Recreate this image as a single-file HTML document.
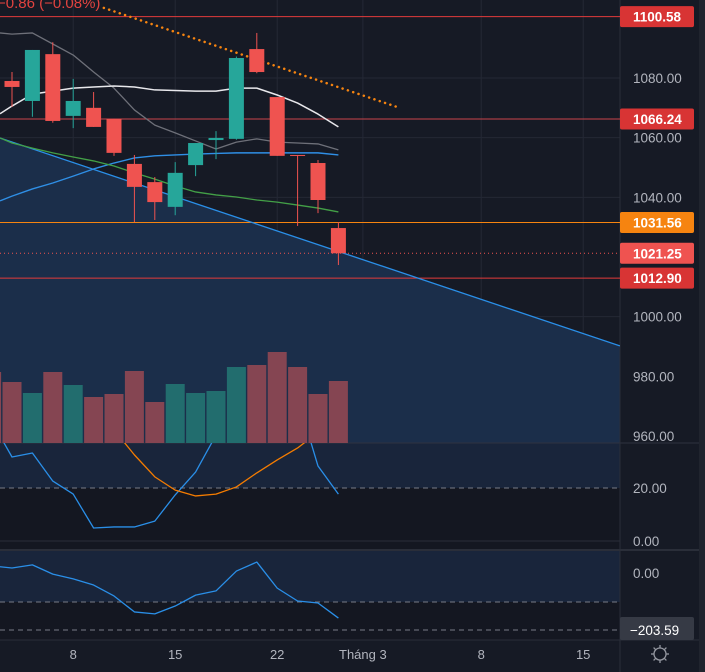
<!DOCTYPE html>
<html><head><meta charset="utf-8">
<style>
html,body{margin:0;padding:0;background:#161a25;}
svg{display:block;font-family:"Liberation Sans",sans-serif;}
</style></head>
<body>
<svg id="c" width="705" height="672" viewBox="0 0 705 672" xmlns="http://www.w3.org/2000/svg">
<rect x="0" y="0" width="705" height="672" fill="#161a25"/>
<rect x="699" y="0" width="6" height="672" fill="#20242e"/>
<g id="grid"></g>
<g id="fills"></g>
<g id="lines"></g>
<g id="marks"></g>
<g id="axis"></g>
</svg>
<script>
// ---- data ----
const opens  = [1079,1072.3,1088,1067.3,1070,1066.3,1051.2,1045.1,1036.8,1050.8,1059.2,1059.6,1089.7,1073.6,1054.2,1051.5,1029.7];
const highs  = [1082,1089.4,1092,1079.7,1075.3,1066.3,1054.2,1046.8,1051.8,1058.2,1062.2,1087.2,1095.1,1073.6,1054.2,1052.5,1031.7];
const lows   = [1070.3,1067,1065,1063.2,1063.6,1053.9,1031.7,1032.4,1034,1047.1,1052.8,1059.3,1081.6,1053.9,1030.4,1034.7,1017.3];
const closes = [1077,1089.4,1065.6,1072.3,1063.6,1054.9,1043.5,1038.4,1048.2,1058.2,1059.9,1086.7,1082,1053.9,1053.9,1039.1,1021.25];
const volIdx = [-1,0,1,2,3,4,5,6,7,8,9,10,11,12,13,14,15,16];
const volumes = [71,61,50,71,58,46,49,72,41,59,50,52,76,78,91,76,49,62];
const volUp = [0,0,1,0,1,0,0,0,0,1,1,1,1,0,0,0,0,0];
const maWhite = [1070.6,1074.6,1075.6,1076.6,1077,1077.3,1077,1076,1075.8,1075.6,1075.6,1076.6,1076.6,1074.3,1071.6,1067.9,1063.6];
const maGray  = [1094.7,1095.1,1091.4,1087.7,1082,1076.6,1069.3,1064.2,1061.6,1058.9,1056.2,1058.5,1059.6,1058.5,1058.2,1057.9,1055.9];
const maBlue  = [1040.4,1042.8,1044.8,1047.1,1049.5,1051.5,1053.2,1053.9,1054.2,1054.5,1054.7,1054.9,1054.9,1054.9,1054.9,1054.9,1054.2];
const maGreen = [1058.2,1056.5,1054.9,1053.5,1052.2,1050.5,1048.2,1046.1,1043.8,1041.8,1040.8,1040.1,1039.1,1038.4,1037.4,1036.4,1035.1];
const trendIdx = [-0.59,29.8];
const trendPx = [1059.9,990.2];
const resIdx = [4.5,19.0];
const resPx = [1103.5,1070];
const oscBlue = [31.7,33.2,22.6,17.7,4.9,5.3,5.3,7.5,17.4,26,40,65,75,65,54,28.3,17.7];
const oscOrangeIdx = [5,6,7,8,9,10,11,12,13,14,15,16];
const oscOrange = [42,32.5,24.2,19.2,17,17.7,20.4,25.7,30.6,35.1,41,44];
const osc2 = [25,18,29,-4,-21,-43,-82,-139,-146,-118,-79,-64,7,39,-54,-100,-107,-161];
const levels = [1100.58,1066.24,1031.56,1021.25,1012.90];
const levelColors = ["#e23b3b","#e23b3b","#f68410","#ef5350","#e23b3b"];
const priceTicks = [1080,1060,1040,1000,980,960];
const dateLabels = ["8","15","22","Tháng 3","8","15"];
const dateIdx = [3,8,13,17.2,23,28];

// ---- scales ----
const X = i => 12 + 20.4*i;
const Y = p => 78 + (1080-p)*2.983;
const OY = v => 488 - (v-20)*2.65;
const O2 = v => 573 - v*0.28;
const NS="http://www.w3.org/2000/svg";
function mk(parent,tag,attrs){const e=document.createElementNS(NS,tag);for(const k in attrs)e.setAttribute(k,attrs[k]);document.getElementById(parent).appendChild(e);return e;}
// clip paths
const defs=document.createElementNS(NS,'defs');document.getElementById('c').appendChild(defs);
defs.innerHTML='<clipPath id="cm"><rect x="0" y="0" width="620" height="443"/></clipPath><clipPath id="c1"><rect x="0" y="443" width="620" height="106"/></clipPath><clipPath id="c2"><rect x="0" y="551" width="620" height="89"/></clipPath>';

// grid
dateIdx.forEach(i=>{const g=mk('grid','line',{x1:X(i),x2:X(i),y1:0,y2:640,stroke:'#242835','stroke-width':1});

});
priceTicks.forEach(p=>{const g=mk('grid','line',{x1:0,x2:620,y1:Y(p),y2:Y(p),stroke:'#242835','stroke-width':1});

});

// fills
let tf=mk('fills','polygon',{points:`${X(trendIdx[0])},${Y(trendPx[0])} ${X(trendIdx[1])},${Y(trendPx[1])} 620,443 0,443`,fill:'#1b2e4a','clip-path':'url(#cm)'});


let f1=mk('fills','rect',{x:0,y:443,width:620,height:OY(20)-443,fill:'#19253b'});


let f1b=mk('fills','rect',{x:0,y:OY(20),width:620,height:549-OY(20),fill:'#141721'});


let f2=mk('fills','rect',{x:0,y:551,width:620,height:51,fill:'#19253b'});


let f2b=mk('fills','rect',{x:0,y:602,width:620,height:38,fill:'#141721'});


let sep=mk('fills','rect',{x:0,y:549,width:699,height:2,fill:'#2a2e39'});


let sep2=mk('fills','line',{x1:0,x2:699,y1:443,y2:443,stroke:'#2f3340'});


let sep3=mk('fills','line',{x1:0,x2:699,y1:640,y2:640,stroke:'#2a2e39'});


let sep4=mk('fills','line',{x1:620,x2:620,y1:0,y2:672,stroke:'#2a2e39'});



// volumes
volumes.forEach((v,k)=>{const i=volIdx[k];const b=mk('marks','rect',{x:X(i)-9.5,y:443-v,width:19,height:v,fill:volUp[k]?'#226d6e':'#854552'});

});

// horizontal level lines
levels.forEach((p,k)=>{const l=mk('lines','line',{x1:0,x2:620,y1:Y(p),y2:Y(p),stroke:levelColors[k],'stroke-width':1});
if(k===3)l.setAttribute('stroke-dasharray','1 3');
if(k===1)l.setAttribute('stroke','#c9444a');

});

function poly(parent,xs,ys,color,w,clip,name){const pts=xs.map((x,k)=>x+','+ys[k]).join(' ');const e=mk(parent,'polyline',{points:pts,fill:'none',stroke:color,'stroke-width':w,'clip-path':clip,'stroke-linejoin':'round'});return e;}
const idx=opens.map((_,i)=>i);
let e;
e=poly('lines',trendIdx.map(X),trendPx.map(Y),'#2a8fe8',1.3,'url(#cm)');


e=poly('lines',resIdx.map(X),resPx.map(Y),'#f68410',2.5,'url(#cm)');
e.setAttribute('stroke-dasharray','0.1 5.5');e.setAttribute('stroke-linecap','round');


e=poly('lines',[0].concat(idx.map(X)),[Y(maGray[0]+0.4)].concat(maGray.map(Y)),'#6e7079',1.3,'url(#cm)');


e=poly('lines',[0].concat(idx.map(X)),[Y(1068)].concat(maWhite.map(Y)),'#e8e8ec',1.5,'url(#cm)');


e=poly('lines',[0].concat(idx.map(X)),[Y(1038.8)].concat(maBlue.map(Y)),'#2f8fe6',1.4,'url(#cm)');


e=poly('lines',[0].concat(idx.map(X)),[Y(1059.9)].concat(maGreen.map(Y)),'#43a047',1.3,'url(#cm)');



// candles
idx.forEach(i=>{const up=closes[i]>=opens[i];const col=up?'#26a69a':'#ef5350';
const w=mk('marks','line',{x1:X(i),x2:X(i),y1:Y(highs[i]),y2:Y(lows[i]),stroke:col,'stroke-width':1});


const t=Y(Math.max(opens[i],closes[i])),bt=Y(Math.min(opens[i],closes[i]));
const b=mk('marks','rect',{x:X(i)-7.5,y:t,width:15,height:Math.max(1,bt-t),fill:col});

});

// oscillator 1
let d=mk('lines','line',{x1:0,x2:620,y1:OY(20),y2:OY(20),stroke:'#787b86','stroke-dasharray':'5 4'});


let g0=mk('lines','line',{x1:0,x2:620,y1:OY(0),y2:OY(0),stroke:'#2a2e39'});


e=poly('lines',[-8].concat(idx.map(X)),[OY(45)].concat(oscBlue.map(OY)),'#2a8fe8',1.3,'url(#c1)');


e=poly('lines',oscOrangeIdx.map(X),oscOrange.map(OY),'#f57c00',1.3,'url(#c1)');



// oscillator 2
[602,630].forEach(y=>{const l=mk('lines','line',{x1:0,x2:620,y1:y,y2:y,stroke:'#787b86','stroke-dasharray':'5 4'});

});
e=poly('lines',[-8].concat(idx.map(X)),osc2.map(O2),'#2a8fe8',1.3,'url(#c2)');



// axis labels
function txt(x,y,s,fill,size,anchor,name,weight){const t=mk('axis','text',{x:x,y:y,fill:fill,'font-size':size,'text-anchor':anchor||'start','font-weight':weight||'normal'});t.textContent=s;

return t;}
priceTicks.forEach(p=>txt(633,Y(p)+5,p.toFixed(2),'#b2b5be',13.5,'start','price-tick-label'));
txt(633,OY(20)+5,'20.00','#b2b5be',13.5,'start','oscillator-tick-label');
txt(633,OY(0)+5,'0.00','#b2b5be',13.5,'start','oscillator-tick-label');
txt(633,O2(0)+5,'0.00','#b2b5be',13.5,'start','cci-tick-label');
levels.forEach((p,k)=>{const r=mk('axis','rect',{x:620,y:Y(p)-10.5,width:74,height:21,rx:2,fill:k===3?'#ef5350':(k===2?'#f68410':'#d83434')});


txt(633,Y(p)+5,p.toFixed(2),'#ffffff',13.5,'start','price-level-tag-label','bold');});
let cr=mk('axis','rect',{x:620,y:617,width:74,height:23,rx:2,fill:'#363a45'});


txt(630,635,'−203.59','#ffffff',13.5,'start','cci-value-label');
dateLabels.forEach((s,k)=>txt(X(dateIdx[k]),659,s,'#b2b5be',13,'middle','time-axis-label'));
txt(-3,8,'−0.86 (−0.08%)','#e2433f',15,'start','change-header');
// gear icon
const gi=mk('axis','g',{transform:'translate(660,654)',stroke:'#9598a1','stroke-width':1.3,fill:'none'});


gi.innerHTML='<circle r="6"/><line x1="0" y1="-9" x2="0" y2="-6"/><line x1="0" y1="6" x2="0" y2="9"/><line x1="-9" y1="0" x2="-6" y2="0"/><line x1="6" y1="0" x2="9" y2="0"/><line x1="-6.4" y1="-6.4" x2="-4.2" y2="-4.2"/><line x1="6.4" y1="6.4" x2="4.2" y2="4.2"/><line x1="6.4" y1="-6.4" x2="4.2" y2="-4.2"/><line x1="-6.4" y1="6.4" x2="-4.2" y2="4.2"/>';
</script>
</body></html>
